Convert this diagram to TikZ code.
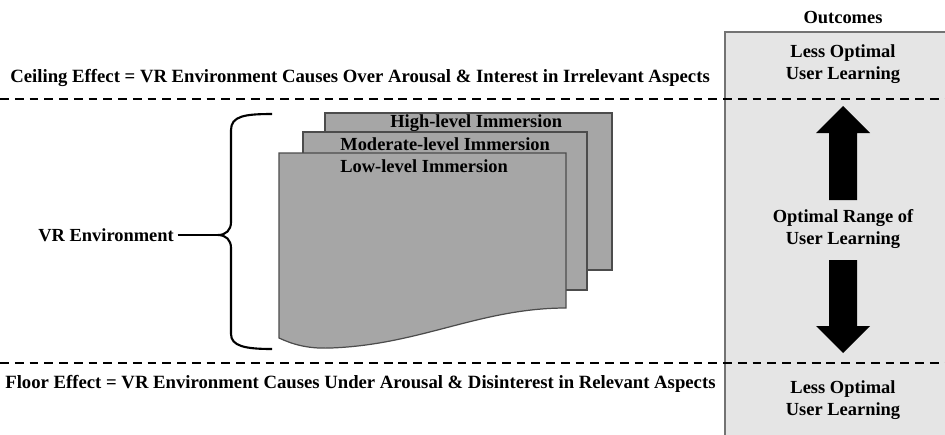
\documentclass[tikz,border=0pt]{standalone}
\usepackage{fontspec}
\setmainfont{Liberation Serif}
\usetikzlibrary{positioning}

\begin{document}
\begin{tikzpicture}[x=0.02cm, y=-0.02cm,
    every node/.style={font=\bfseries\fontsize{10.5}{12.5}\selectfont, inner sep=0pt},
    effect/.style={anchor=west, font=\bfseries\fontsize{10.65}{12.5}\selectfont},
    dashline/.style={line width=1.1pt, dash pattern=on 5pt off 3.4pt},
    page/.style={fill=black!35, draw=black!70, line width=0.7pt},
    blockarrow/.style={fill=black}]
  \useasboundingbox (0,0) rectangle (945,434);
  % ---------- OUTCOMES COLUMN ----------
  \fill[black!10] (725,32) rectangle (950,440);
  \draw[black!55, line width=0.6pt] (950,32) -- (725,32) -- (725,440);
  \node (outc) at (843,17) {Outcomes};
  \node[align=center] (lessTop) at (843,64) {Less Optimal\\User Learning};
  \node[align=center] (optimal) at (843,229) {Optimal Range of\\User Learning};
  \node[align=center] (lessBot) at (843,400) {Less Optimal\\User Learning};
  \fill[blockarrow] (843,106) -- (870,133) -- (857,133) -- (857,200)
    -- (829,200) -- (829,133) -- (816,133) -- cycle;
  \fill[blockarrow] (843,353) -- (870,326) -- (857,326) -- (857,260)
    -- (829,260) -- (829,326) -- (816,326) -- cycle;
  % ---------- THRESHOLDS ----------
  \draw[dashline] (0,99) -- (945,99);
  \draw[dashline] (0,363) -- (945,363);
  \node[effect] (ceiling) at (10,78)
    {Ceiling Effect = VR Environment Causes Over Arousal \& Interest in Irrelevant Aspects};
  \node[effect] (floor) at (5,384)
    {Floor Effect = VR Environment Causes Under Arousal \& Disinterest in Relevant Aspects};
  % ---------- IMMERSION PAGES ----------
  \draw[page] (325,113) rectangle (612,270);
  \node[anchor=west] (high) at (390,123) {High-level Immersion};
  \draw[page] (303,132) rectangle (587,290);
  \node[anchor=west] (moderate) at (340,144) {Moderate-level Immersion};
  \draw[page] (279,153) -- (566,153) -- (566,308)
    .. controls (480,308) and (420,345) .. (330,348)
    .. controls (305,349) and (290,343) .. (279,338) -- cycle;
  \node[anchor=west] (low) at (340,166) {Low-level Immersion};
  % ---------- BRACE ----------
  \coordinate (tip) at (218,235);
  \draw[line width=1.2pt] (272,114) .. controls (245,114) and (231,116) .. (231,130)
    -- (231,222) .. controls (231,230) and (226,235) .. (tip)
    .. controls (226,235) and (231,240) .. (231,248)
    -- (231,334) .. controls (231,346) and (245,349) .. (272,349);
  \node[anchor=west] (vrenv) at (38,235) {VR Environment};
  \draw[line width=1.2pt] (vrenv.east) ++(2pt,0) -- (tip);
\end{tikzpicture}
\end{document}
